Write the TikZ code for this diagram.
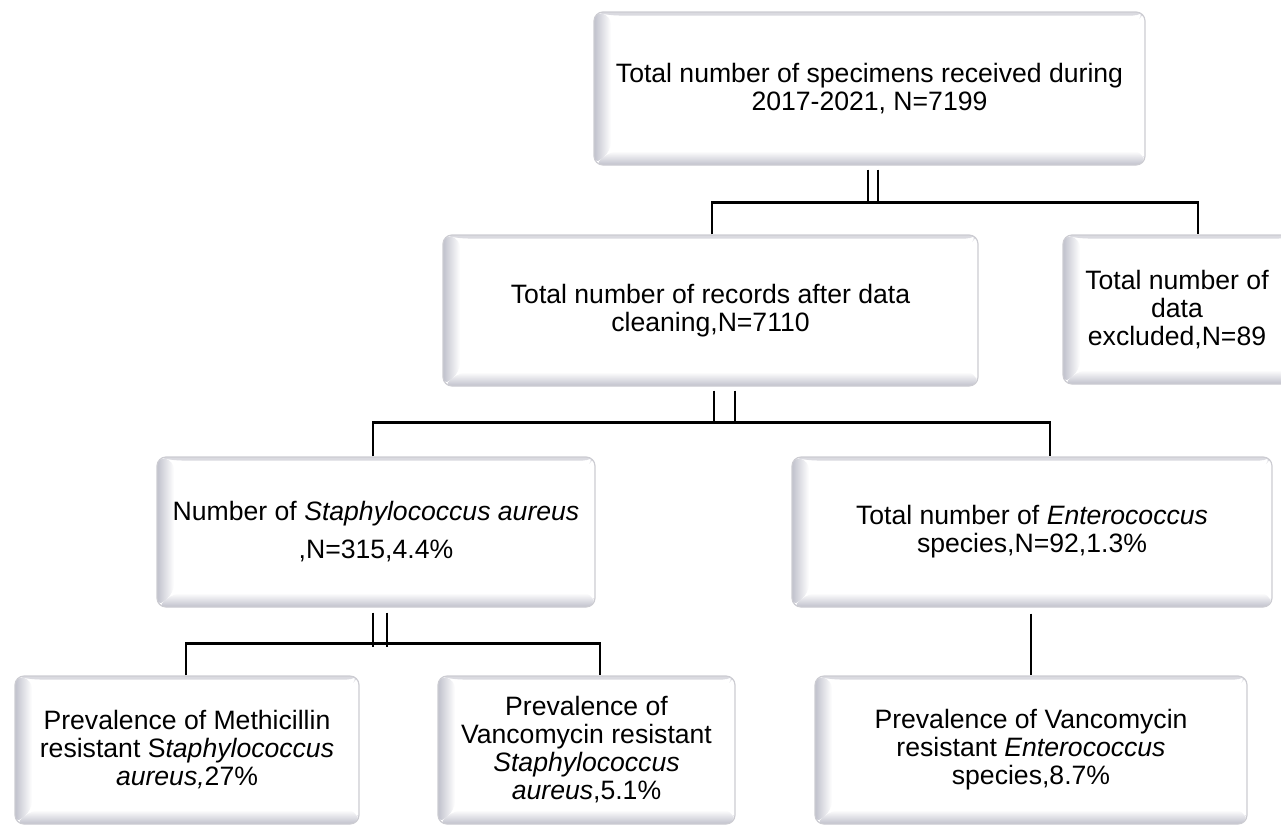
\documentclass[tikz,border=0pt]{standalone}
\usepackage{fontspec}
\setmainfont{Liberation Sans}
\usetikzlibrary{calc}
\definecolor{edgec}{RGB}{204,204,210}
\definecolor{bevc}{RGB}{192,193,204}
\definecolor{topc}{RGB}{218,218,224}
\tikzset{
  bbox/.style={draw=edgec, line width=1.2pt, fill=white, rounded corners=9pt,
    inner sep=0pt, align=center, font=\fontsize{26.6}{28}\selectfont,
    path picture={
      \coordinate (PSW) at (path picture bounding box.south west);
      \coordinate (PNE) at (path picture bounding box.north east);
      \coordinate (PNW) at (PSW |- PNE);
      \coordinate (PSE) at (PNE |- PSW);
      \fill[topc] (PNW) -- (PNE) -- ($(PNE)+(-3pt,-3.5pt)$) -- ($(PNW)+(16pt,-3.5pt)$) -- cycle;
      \shade[left color=bevc, right color=white] (PSW) -- ($(PSW)+(17pt,14pt)$) -- ($(PNW)+(17pt,-3.5pt)$) -- (PNW) -- cycle;
      \shade[top color=white, bottom color=bevc] (PSW) -- (PSE) -- ($(PSE)+(-3pt,14pt)$) -- ($(PSW)+(17pt,14pt)$) -- cycle;
    }},
  conn/.style={draw=black, line width=2.5pt}
}
\begin{document}
\begin{tikzpicture}[x=1pt, y=-1pt]
\useasboundingbox (0,0) rectangle (1281,825);
\clip (0,0) rectangle (1281,825);

\node[bbox, minimum width=551pt, minimum height=153pt] (b1) at (869.5,88.5)
  {Total number of specimens received during\\2017-2021, N=7199};
\node[bbox, minimum width=535pt, minimum height=151pt] (b2) at (710.5,310.5)
  {Total number of records after data\\cleaning,N=7110};
\node[bbox, minimum width=228pt, minimum height=149pt] (b3) at (1177,309.5)
  {Total number of\\data\\excluded,N=89};
\node[bbox, minimum width=438pt, minimum height=150pt] (b4) at (376,532)
  {Number of \textit{Staphylococcus aureus}\\[10pt],N=315,4.4\%};
\node[bbox, minimum width=480pt, minimum height=150pt] (b5) at (1032,532)
  {Total number of \textit{Enterococcus}\\species,N=92,1.3\%};
\node[bbox, minimum width=344pt, minimum height=148pt] (b6) at (187,750)
  {Prevalence of Methicillin\\resistant S\textit{taphylococcus}\\\textit{aureus,}27\%};
\node[bbox, minimum width=297pt, minimum height=148pt] (b7) at (586.5,750)
  {Prevalence of\\Vancomycin resistant\\\textit{Staphylococcus}\\\textit{aureus},5.1\%};
\node[bbox, minimum width=432pt, minimum height=148pt] (b8) at (1031,750)
  {Prevalence of Vancomycin\\resistant \textit{Enterococcus}\\species,8.7\%};

% level 1 -> level 2
\draw[conn] ($(b1.south)+(-1.5,4)$) -- ++(0,34);
\draw[conn] ($(b1.south)+(8.5,4)$) -- ++(0,34);
\draw[conn] ($(b2.north)+(1.5,0)$) -- ++(0,-32) -| ([xshift=21pt]b3.north);

% level 2 -> level 3
\draw[conn] ($(b2.south)+(3.5,4)$) -- ++(0,33);
\draw[conn] ($(b2.south)+(24.5,4)$) -- ++(0,33);
\draw[conn] ($(b4.north)+(-3,0)$) -- ++(0,-34) -| ([xshift=18pt]b5.north);

% level 3 -> level 4
\draw[conn] ($(b4.south)+(-3,5)$) -- ++(0,34);
\draw[conn] ($(b4.south)+(11,5)$) -- ++(0,34);
\draw[conn] ($(b6.north)+(-1,0)$) -- ++(0,-32) -| ([xshift=13.5pt]b7.north);
\draw[conn] ($(b5.south)+(-1,6)$) -- (b8.north);
\end{tikzpicture}
\end{document}
